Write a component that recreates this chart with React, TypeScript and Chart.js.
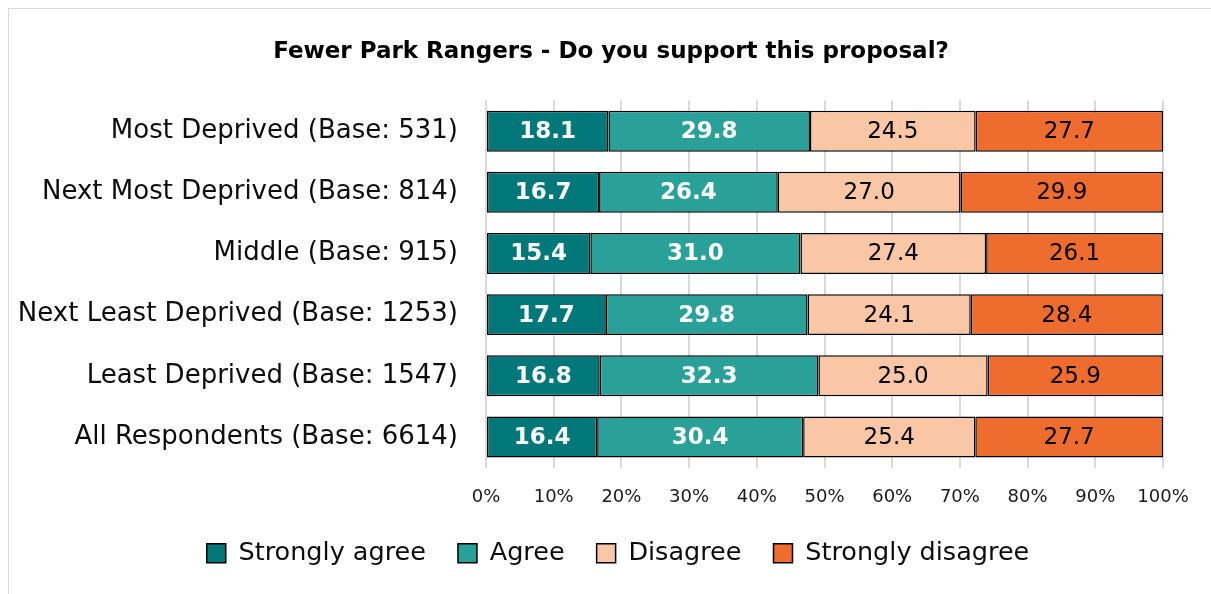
import React, { useEffect, useRef } from "react";
import { Chart, registerables } from "chart.js";

Chart.register(...registerables);

const categories = [
  "Most Deprived (Base: 531)",
  "Next Most Deprived (Base: 814)",
  "Middle (Base: 915)",
  "Next Least Deprived (Base: 1253)",
  "Least Deprived (Base: 1547)",
  "All Respondents (Base: 6614)",
];
const seriesNames = ["Strongly agree", "Agree", "Disagree", "Strongly disagree"];
const stronglyAgree = [18.1, 16.7, 15.4, 17.7, 16.8, 16.4];
const agree = [29.8, 26.4, 31.0, 29.8, 32.3, 30.4];
const disagree = [24.5, 27.0, 27.4, 24.1, 25.0, 25.4];
const stronglyDisagree = [27.7, 29.9, 26.1, 28.4, 25.9, 27.7];
const seriesColors = ["#00787A", "#2AA198", "#F9C7A6", "#ED6C2E"];
const labelColors = ["#FFFFFF", "#FFFFFF", "#000000", "#000000"];
const labelBold = [true, true, false, false];
const xTicks = [0, 10, 20, 30, 40, 50, 60, 70, 80, 90, 100];

const FONT = "'DejaVu Sans', sans-serif";

const rawSeries = [stronglyAgree, agree, disagree, stronglyDisagree];

const valueLabels = {
  id: "valueLabels",
  afterDatasetsDraw(chart: any) {
    const ctx = chart.ctx;
    ctx.save();
    ctx.textAlign = "center";
    ctx.textBaseline = "middle";
    chart.data.datasets.forEach((ds: any, di: number) => {
      const meta = chart.getDatasetMeta(di);
      meta.data.forEach((el: any, i: number) => {
        const { x, base, y } = el.getProps(["x", "base", "y"], true);
        ctx.fillStyle = labelColors[di];
        ctx.font = `${labelBold[di] ? "bold " : ""}23px ${FONT}`;
        ctx.fillText(rawSeries[di][i].toFixed(1), (x + base) / 2, y + 1);
      });
    });
    ctx.restore();
  },
};

// Shift title and legend centres to match the reference composition
const boxShift = {
  id: "boxShift",
  afterLayout(chart: any) {
    if (chart.titleBlock) chart.titleBlock.left += 50;
    if (chart.legend) chart.legend.left += 64;
  },
};

export default function App() {
  const ref = useRef<HTMLCanvasElement | null>(null);
  useEffect(() => {
    if (!ref.current) return;
    const totals = categories.map((_, i) =>
      rawSeries.reduce((s, arr) => s + arr[i], 0)
    );
    const chart = new Chart(ref.current, {
      type: "bar",
      data: {
        labels: categories,
        datasets: rawSeries.map((arr, di) => ({
          label: seriesNames[di],
          data: arr.map((v, i) => (v / totals[i]) * 100),
          backgroundColor: seriesColors[di],
          borderColor: "#000000",
          borderWidth: 1.5,
          borderSkipped: false,
          barPercentage: 0.67,
          categoryPercentage: 1,
        })),
      },
      options: {
        indexAxis: "y",
        animation: false,
        responsive: false,
        maintainAspectRatio: false,
        layout: { padding: { left: 0, right: 48, top: 0, bottom: 18 } },
        scales: {
          x: {
            stacked: true,
            min: 0,
            max: 100,
            afterBuildTicks: (scale: any) => {
              scale.ticks = xTicks.map((v) => ({ value: v }));
            },
            ticks: {
              callback: (v: any) => `${v}%`,
              font: { family: FONT, size: 18 },
              color: "#1a1a1a",
              padding: 19,
              maxRotation: 0,
            },
            grid: { color: "#D9D9D9", lineWidth: 2, drawTicks: false },
            border: { display: false },
            afterFit: (scale: any) => {
              scale.height = 41;
            },
          },
          y: {
            stacked: true,
            ticks: {
              font: { family: FONT, size: 26 },
              color: "#0d0d0d",
              padding: 28,
            },
            grid: { display: false, drawTicks: false },
            border: { display: false },
            afterFit: (scale: any) => {
              scale.width = 477;
            },
          },
        },
        plugins: {
          title: {
            display: true,
            text: "Fewer Park Rangers - Do you support this proposal?",
            font: { family: FONT, size: 23, weight: "bold" },
            color: "#000000",
            padding: { top: 29, bottom: 35 },
          },
          legend: {
            position: "bottom",
            labels: {
              font: { family: FONT, size: 25.5 },
              color: "#0d0d0d",
              boxWidth: 19,
              boxHeight: 19,
              padding: 32,
            },
          },
          tooltip: { enabled: false },
        },
      },
      plugins: [valueLabels, boxShift],
    });
    return () => chart.destroy();
  }, []);
  return (
    <div
      style={{
        position: "fixed",
        left: 8,
        top: 8,
        width: 1203,
        height: 586,
        borderLeft: "1px solid #D9D9D9",
        borderTop: "1px solid #D9D9D9",
        background: "#fff",
        overflow: "hidden",
      }}
    >
      <canvas ref={ref} width={1202} height={585} style={{ display: "block" }} />
    </div>
  );
}
